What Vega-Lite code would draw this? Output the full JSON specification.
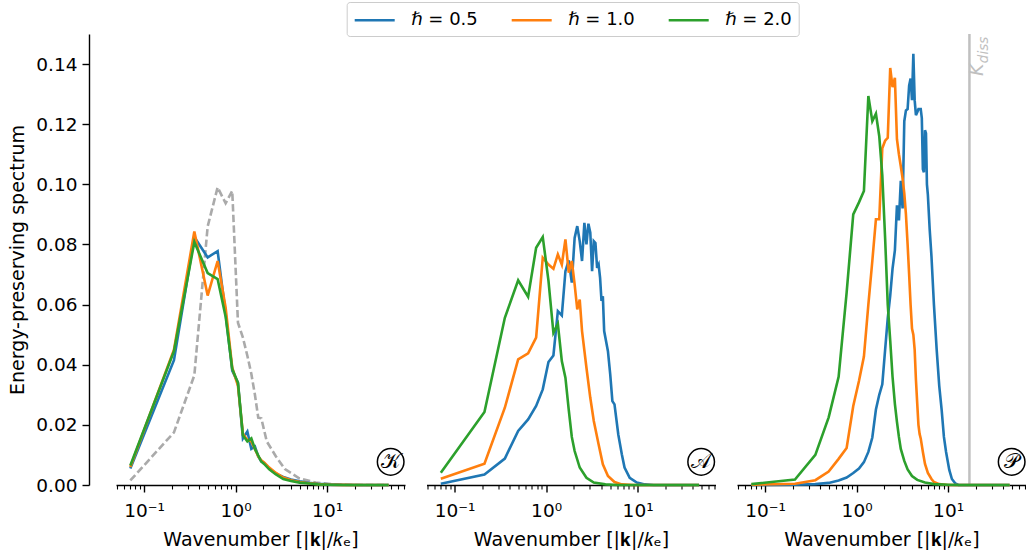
{
  "$schema": "https://vega.github.io/schema/vega-lite/v6.json",
  "padding": {"left": 8, "top": 1, "right": 0, "bottom": 0},
  "spacing": 19.5,
  "config": {
    "font": "DejaVu Sans",
    "view": {"stroke": null},
    "axis": {
      "labelFont": "DejaVu Sans", "labelFontSize": 18.5, "labelColor": "black",
      "titleFont": "DejaVu Sans", "titleFontSize": 19, "titleFontWeight": "normal", "titleColor": "black",
      "domainColor": "black", "domainWidth": 1.4, "tickColor": "black", "tickWidth": 1.4, "grid": false
    }
  },
  "datasets": {
    "K": [
      {"h":"ℏ = 0.5","k":0.0707,"E":0.0055},{"h":"ℏ = 0.5","k":0.212,"E":0.0415},{"h":"ℏ = 0.5","k":0.354,"E":0.0825},{"h":"ℏ = 0.5","k":0.495,"E":0.0757},{"h":"ℏ = 0.5","k":0.636,"E":0.0778},{"h":"ℏ = 0.5","k":0.778,"E":0.057},{"h":"ℏ = 0.5","k":0.919,"E":0.038},{"h":"ℏ = 0.5","k":1.061,"E":0.034},{"h":"ℏ = 0.5","k":1.202,"E":0.0155},{"h":"ℏ = 0.5","k":1.344,"E":0.0178},{"h":"ℏ = 0.5","k":1.485,"E":0.012},{"h":"ℏ = 0.5","k":1.626,"E":0.0128},{"h":"ℏ = 0.5","k":1.768,"E":0.0095},{"h":"ℏ = 0.5","k":1.909,"E":0.0078},{"h":"ℏ = 0.5","k":2.05,"E":0.0073},{"h":"ℏ = 0.5","k":2.33,"E":0.0055},{"h":"ℏ = 0.5","k":2.76,"E":0.0038},{"h":"ℏ = 0.5","k":3.32,"E":0.0027},{"h":"ℏ = 0.5","k":4.03,"E":0.0018},{"h":"ℏ = 0.5","k":5.02,"E":0.0012},{"h":"ℏ = 0.5","k":6.29,"E":0.0007},{"h":"ℏ = 0.5","k":8.0,"E":0.0004},{"h":"ℏ = 0.5","k":10.5,"E":0.0002},{"h":"ℏ = 0.5","k":15,"E":0.0001},{"h":"ℏ = 0.5","k":25,"E":0},{"h":"ℏ = 0.5","k":47,"E":0},
      {"h":"ℏ = 1.0","k":0.0707,"E":0.006},{"h":"ℏ = 1.0","k":0.212,"E":0.045},{"h":"ℏ = 1.0","k":0.354,"E":0.0843},{"h":"ℏ = 1.0","k":0.495,"E":0.063},{"h":"ℏ = 1.0","k":0.636,"E":0.0745},{"h":"ℏ = 1.0","k":0.778,"E":0.059},{"h":"ℏ = 1.0","k":0.919,"E":0.039},{"h":"ℏ = 1.0","k":1.061,"E":0.033},{"h":"ℏ = 1.0","k":1.202,"E":0.017},{"h":"ℏ = 1.0","k":1.344,"E":0.015},{"h":"ℏ = 1.0","k":1.485,"E":0.0145},{"h":"ℏ = 1.0","k":1.626,"E":0.012},{"h":"ℏ = 1.0","k":1.768,"E":0.0095},{"h":"ℏ = 1.0","k":1.909,"E":0.0082},{"h":"ℏ = 1.0","k":2.05,"E":0.0075},{"h":"ℏ = 1.0","k":2.33,"E":0.0058},{"h":"ℏ = 1.0","k":2.76,"E":0.004},{"h":"ℏ = 1.0","k":3.32,"E":0.0025},{"h":"ℏ = 1.0","k":4.03,"E":0.0016},{"h":"ℏ = 1.0","k":5.02,"E":0.001},{"h":"ℏ = 1.0","k":6.29,"E":0.0006},{"h":"ℏ = 1.0","k":8.0,"E":0.0003},{"h":"ℏ = 1.0","k":10.5,"E":0.0001},{"h":"ℏ = 1.0","k":15,"E":0.00005},{"h":"ℏ = 1.0","k":25,"E":0},{"h":"ℏ = 1.0","k":47,"E":0},
      {"h":"ℏ = 2.0","k":0.0707,"E":0.0065},{"h":"ℏ = 2.0","k":0.212,"E":0.0445},{"h":"ℏ = 2.0","k":0.354,"E":0.0808},{"h":"ℏ = 2.0","k":0.495,"E":0.0705},{"h":"ℏ = 2.0","k":0.636,"E":0.0685},{"h":"ℏ = 2.0","k":0.778,"E":0.056},{"h":"ℏ = 2.0","k":0.919,"E":0.0386},{"h":"ℏ = 2.0","k":1.061,"E":0.034},{"h":"ℏ = 2.0","k":1.202,"E":0.0165},{"h":"ℏ = 2.0","k":1.344,"E":0.0145},{"h":"ℏ = 2.0","k":1.485,"E":0.0155},{"h":"ℏ = 2.0","k":1.626,"E":0.012},{"h":"ℏ = 2.0","k":1.768,"E":0.0098},{"h":"ℏ = 2.0","k":1.909,"E":0.0078},{"h":"ℏ = 2.0","k":2.05,"E":0.007},{"h":"ℏ = 2.0","k":2.33,"E":0.0052},{"h":"ℏ = 2.0","k":2.76,"E":0.0035},{"h":"ℏ = 2.0","k":3.32,"E":0.002},{"h":"ℏ = 2.0","k":4.03,"E":0.0013},{"h":"ℏ = 2.0","k":5.02,"E":0.0008},{"h":"ℏ = 2.0","k":6.29,"E":0.0005},{"h":"ℏ = 2.0","k":8.0,"E":0.0002},{"h":"ℏ = 2.0","k":10.5,"E":0.0001},{"h":"ℏ = 2.0","k":15,"E":0},{"h":"ℏ = 2.0","k":47,"E":0}
    ],
    "K0": [
      {"k":0.0707,"E":0.0015},{"k":0.212,"E":0.0175},{"k":0.354,"E":0.0365},{"k":0.495,"E":0.086},{"k":0.636,"E":0.099},{"k":0.778,"E":0.0937},{"k":0.919,"E":0.0978},{"k":1.061,"E":0.054},{"k":1.202,"E":0.049},{"k":1.344,"E":0.043},{"k":1.485,"E":0.037},{"k":1.626,"E":0.03},{"k":1.768,"E":0.0224},{"k":1.909,"E":0.0222},{"k":2.19,"E":0.0145},{"k":2.76,"E":0.0095},{"k":3.46,"E":0.0053},{"k":4.9,"E":0.0023},{"k":7.5,"E":0.0008},{"k":12,"E":0.0002},{"k":20,"E":0},{"k":47,"E":0}
    ],
    "A": [
      {"h":"ℏ = 0.5","k":0.0707,"E":0.0004},{"h":"ℏ = 0.5","k":0.212,"E":0.0035},{"h":"ℏ = 0.5","k":0.354,"E":0.0088},{"h":"ℏ = 0.5","k":0.495,"E":0.018},{"h":"ℏ = 0.5","k":0.636,"E":0.0218},{"h":"ℏ = 0.5","k":0.778,"E":0.0263},{"h":"ℏ = 0.5","k":0.919,"E":0.0318},{"h":"ℏ = 0.5","k":1.061,"E":0.0409},{"h":"ℏ = 0.5","k":1.202,"E":0.0431},{"h":"ℏ = 0.5","k":1.344,"E":0.0578},{"h":"ℏ = 0.5","k":1.485,"E":0.0564},{"h":"ℏ = 0.5","k":1.626,"E":0.0711},{"h":"ℏ = 0.5","k":1.768,"E":0.0747},{"h":"ℏ = 0.5","k":1.909,"E":0.0673},{"h":"ℏ = 0.5","k":2.05,"E":0.0822},{"h":"ℏ = 0.5","k":2.19,"E":0.0861},{"h":"ℏ = 0.5","k":2.33,"E":0.0811},{"h":"ℏ = 0.5","k":2.47,"E":0.0745},{"h":"ℏ = 0.5","k":2.62,"E":0.0872},{"h":"ℏ = 0.5","k":2.76,"E":0.08},{"h":"ℏ = 0.5","k":2.9,"E":0.0869},{"h":"ℏ = 0.5","k":3.04,"E":0.0839},{"h":"ℏ = 0.5","k":3.18,"E":0.0711},{"h":"ℏ = 0.5","k":3.32,"E":0.0811},{"h":"ℏ = 0.5","k":3.46,"E":0.0805},{"h":"ℏ = 0.5","k":3.61,"E":0.0722},{"h":"ℏ = 0.5","k":3.75,"E":0.0733},{"h":"ℏ = 0.5","k":3.89,"E":0.0689},{"h":"ℏ = 0.5","k":4.03,"E":0.0612},{"h":"ℏ = 0.5","k":4.17,"E":0.0628},{"h":"ℏ = 0.5","k":4.31,"E":0.0512},{"h":"ℏ = 0.5","k":4.74,"E":0.0445},{"h":"ℏ = 0.5","k":5.02,"E":0.0368},{"h":"ℏ = 0.5","k":5.3,"E":0.0279},{"h":"ℏ = 0.5","k":5.59,"E":0.0268},{"h":"ℏ = 0.5","k":6.15,"E":0.0168},{"h":"ℏ = 0.5","k":6.72,"E":0.0102},{"h":"ℏ = 0.5","k":7.2,"E":0.0058},{"h":"ℏ = 0.5","k":8.2,"E":0.0024},{"h":"ℏ = 0.5","k":9.8,"E":0.0008},{"h":"ℏ = 0.5","k":12,"E":0.0002},{"h":"ℏ = 0.5","k":15,"E":0},{"h":"ℏ = 0.5","k":47,"E":0},
      {"h":"ℏ = 1.0","k":0.0707,"E":0.0021},{"h":"ℏ = 1.0","k":0.212,"E":0.0071},{"h":"ℏ = 1.0","k":0.354,"E":0.0257},{"h":"ℏ = 1.0","k":0.495,"E":0.0418},{"h":"ℏ = 1.0","k":0.636,"E":0.0438},{"h":"ℏ = 1.0","k":0.778,"E":0.049},{"h":"ℏ = 1.0","k":0.919,"E":0.0756},{"h":"ℏ = 1.0","k":1.061,"E":0.0733},{"h":"ℏ = 1.0","k":1.202,"E":0.0719},{"h":"ℏ = 1.0","k":1.344,"E":0.0767},{"h":"ℏ = 1.0","k":1.485,"E":0.0733},{"h":"ℏ = 1.0","k":1.626,"E":0.0817},{"h":"ℏ = 1.0","k":1.768,"E":0.0706},{"h":"ℏ = 1.0","k":1.909,"E":0.0745},{"h":"ℏ = 1.0","k":2.05,"E":0.0667},{"h":"ℏ = 1.0","k":2.19,"E":0.0584},{"h":"ℏ = 1.0","k":2.33,"E":0.0617},{"h":"ℏ = 1.0","k":2.47,"E":0.0512},{"h":"ℏ = 1.0","k":2.76,"E":0.039},{"h":"ℏ = 1.0","k":3.04,"E":0.029},{"h":"ℏ = 1.0","k":3.32,"E":0.0213},{"h":"ℏ = 1.0","k":3.75,"E":0.0135},{"h":"ℏ = 1.0","k":4.17,"E":0.0069},{"h":"ℏ = 1.0","k":4.74,"E":0.003},{"h":"ℏ = 1.0","k":5.59,"E":0.001},{"h":"ℏ = 1.0","k":6.72,"E":0.0002},{"h":"ℏ = 1.0","k":9,"E":0},{"h":"ℏ = 1.0","k":47,"E":0},
      {"h":"ℏ = 2.0","k":0.0707,"E":0.0041},{"h":"ℏ = 2.0","k":0.212,"E":0.0243},{"h":"ℏ = 2.0","k":0.354,"E":0.0556},{"h":"ℏ = 2.0","k":0.495,"E":0.0681},{"h":"ℏ = 2.0","k":0.636,"E":0.0626},{"h":"ℏ = 2.0","k":0.778,"E":0.0789},{"h":"ℏ = 2.0","k":0.919,"E":0.0825},{"h":"ℏ = 2.0","k":1.061,"E":0.068},{"h":"ℏ = 2.0","k":1.202,"E":0.0506},{"h":"ℏ = 2.0","k":1.344,"E":0.0536},{"h":"ℏ = 2.0","k":1.485,"E":0.0412},{"h":"ℏ = 2.0","k":1.626,"E":0.0357},{"h":"ℏ = 2.0","k":1.768,"E":0.025},{"h":"ℏ = 2.0","k":1.909,"E":0.016},{"h":"ℏ = 2.0","k":2.05,"E":0.0113},{"h":"ℏ = 2.0","k":2.33,"E":0.0058},{"h":"ℏ = 2.0","k":2.76,"E":0.0024},{"h":"ℏ = 2.0","k":3.32,"E":0.0008},{"h":"ℏ = 2.0","k":4.45,"E":0.0002},{"h":"ℏ = 2.0","k":6,"E":0},{"h":"ℏ = 2.0","k":47,"E":0}
    ],
    "P": [
      {"h":"ℏ = 0.5","k":0.0707,"E":0},{"h":"ℏ = 0.5","k":0.212,"E":0.0001},{"h":"ℏ = 0.5","k":0.354,"E":0.0003},{"h":"ℏ = 0.5","k":0.495,"E":0.0007},{"h":"ℏ = 0.5","k":0.636,"E":0.0015},{"h":"ℏ = 0.5","k":0.778,"E":0.0025},{"h":"ℏ = 0.5","k":0.919,"E":0.004},{"h":"ℏ = 0.5","k":1.061,"E":0.0055},{"h":"ℏ = 0.5","k":1.202,"E":0.0076},{"h":"ℏ = 0.5","k":1.344,"E":0.011},{"h":"ℏ = 0.5","k":1.485,"E":0.0158},{"h":"ℏ = 0.5","k":1.626,"E":0.0251},{"h":"ℏ = 0.5","k":1.768,"E":0.03},{"h":"ℏ = 0.5","k":1.909,"E":0.0335},{"h":"ℏ = 0.5","k":2.05,"E":0.045},{"h":"ℏ = 0.5","k":2.19,"E":0.0555},{"h":"ℏ = 0.5","k":2.33,"E":0.063},{"h":"ℏ = 0.5","k":2.47,"E":0.072},{"h":"ℏ = 0.5","k":2.62,"E":0.078},{"h":"ℏ = 0.5","k":2.76,"E":0.093},{"h":"ℏ = 0.5","k":2.9,"E":0.088},{"h":"ℏ = 0.5","k":3.04,"E":0.1012},{"h":"ℏ = 0.5","k":3.18,"E":0.092},{"h":"ℏ = 0.5","k":3.32,"E":0.121},{"h":"ℏ = 0.5","k":3.46,"E":0.1246},{"h":"ℏ = 0.5","k":3.61,"E":0.125},{"h":"ℏ = 0.5","k":3.75,"E":0.1328},{"h":"ℏ = 0.5","k":3.89,"E":0.1352},{"h":"ℏ = 0.5","k":4.03,"E":0.128},{"h":"ℏ = 0.5","k":4.17,"E":0.1434},{"h":"ℏ = 0.5","k":4.31,"E":0.128},{"h":"ℏ = 0.5","k":4.45,"E":0.123},{"h":"ℏ = 0.5","k":4.6,"E":0.124},{"h":"ℏ = 0.5","k":4.74,"E":0.125},{"h":"ℏ = 0.5","k":4.88,"E":0.125},{"h":"ℏ = 0.5","k":5.02,"E":0.125},{"h":"ℏ = 0.5","k":5.16,"E":0.122},{"h":"ℏ = 0.5","k":5.3,"E":0.105},{"h":"ℏ = 0.5","k":5.44,"E":0.104},{"h":"ℏ = 0.5","k":5.59,"E":0.118},{"h":"ℏ = 0.5","k":5.73,"E":0.117},{"h":"ℏ = 0.5","k":5.87,"E":0.1},{"h":"ℏ = 0.5","k":6.01,"E":0.0965},{"h":"ℏ = 0.5","k":6.29,"E":0.085},{"h":"ℏ = 0.5","k":6.58,"E":0.076},{"h":"ℏ = 0.5","k":7.0,"E":0.06},{"h":"ℏ = 0.5","k":7.5,"E":0.045},{"h":"ℏ = 0.5","k":8.0,"E":0.033},{"h":"ℏ = 0.5","k":8.5,"E":0.025},{"h":"ℏ = 0.5","k":9.0,"E":0.016},{"h":"ℏ = 0.5","k":9.5,"E":0.011},{"h":"ℏ = 0.5","k":10.3,"E":0.005},{"h":"ℏ = 0.5","k":11,"E":0.002},{"h":"ℏ = 0.5","k":12,"E":0.0005},{"h":"ℏ = 0.5","k":13,"E":0},{"h":"ℏ = 0.5","k":47,"E":0},
      {"h":"ℏ = 1.0","k":0.0707,"E":0.0001},{"h":"ℏ = 1.0","k":0.212,"E":0.0004},{"h":"ℏ = 1.0","k":0.354,"E":0.0016},{"h":"ℏ = 1.0","k":0.495,"E":0.0045},{"h":"ℏ = 1.0","k":0.636,"E":0.0087},{"h":"ℏ = 1.0","k":0.778,"E":0.0123},{"h":"ℏ = 1.0","k":0.919,"E":0.0263},{"h":"ℏ = 1.0","k":1.061,"E":0.0346},{"h":"ℏ = 1.0","k":1.202,"E":0.0427},{"h":"ℏ = 1.0","k":1.344,"E":0.06},{"h":"ℏ = 1.0","k":1.485,"E":0.0745},{"h":"ℏ = 1.0","k":1.626,"E":0.0884},{"h":"ℏ = 1.0","k":1.768,"E":0.0884},{"h":"ℏ = 1.0","k":1.909,"E":0.112},{"h":"ℏ = 1.0","k":2.05,"E":0.1145},{"h":"ℏ = 1.0","k":2.19,"E":0.1155},{"h":"ℏ = 1.0","k":2.33,"E":0.1387},{"h":"ℏ = 1.0","k":2.47,"E":0.1323},{"h":"ℏ = 1.0","k":2.62,"E":0.1354},{"h":"ℏ = 1.0","k":2.76,"E":0.115},{"h":"ℏ = 1.0","k":2.9,"E":0.11},{"h":"ℏ = 1.0","k":3.04,"E":0.106},{"h":"ℏ = 1.0","k":3.18,"E":0.102},{"h":"ℏ = 1.0","k":3.32,"E":0.097},{"h":"ℏ = 1.0","k":3.46,"E":0.09},{"h":"ℏ = 1.0","k":3.61,"E":0.08},{"h":"ℏ = 1.0","k":3.75,"E":0.07},{"h":"ℏ = 1.0","k":3.89,"E":0.06},{"h":"ℏ = 1.0","k":4.03,"E":0.052},{"h":"ℏ = 1.0","k":4.17,"E":0.05},{"h":"ℏ = 1.0","k":4.31,"E":0.045},{"h":"ℏ = 1.0","k":4.45,"E":0.035},{"h":"ℏ = 1.0","k":4.6,"E":0.027},{"h":"ℏ = 1.0","k":4.74,"E":0.02},{"h":"ℏ = 1.0","k":4.88,"E":0.017},{"h":"ℏ = 1.0","k":5.02,"E":0.0155},{"h":"ℏ = 1.0","k":5.3,"E":0.011},{"h":"ℏ = 1.0","k":5.59,"E":0.007},{"h":"ℏ = 1.0","k":6.01,"E":0.004},{"h":"ℏ = 1.0","k":6.58,"E":0.002},{"h":"ℏ = 1.0","k":7.0,"E":0.001},{"h":"ℏ = 1.0","k":8,"E":0.0003},{"h":"ℏ = 1.0","k":10,"E":0},{"h":"ℏ = 1.0","k":47,"E":0},
      {"h":"ℏ = 2.0","k":0.0707,"E":0.0003},{"h":"ℏ = 2.0","k":0.212,"E":0.0018},{"h":"ℏ = 2.0","k":0.354,"E":0.01},{"h":"ℏ = 2.0","k":0.495,"E":0.0225},{"h":"ℏ = 2.0","k":0.636,"E":0.036},{"h":"ℏ = 2.0","k":0.778,"E":0.064},{"h":"ℏ = 2.0","k":0.919,"E":0.09},{"h":"ℏ = 2.0","k":1.061,"E":0.094},{"h":"ℏ = 2.0","k":1.202,"E":0.0978},{"h":"ℏ = 2.0","k":1.344,"E":0.1294},{"h":"ℏ = 2.0","k":1.485,"E":0.121},{"h":"ℏ = 2.0","k":1.626,"E":0.1235},{"h":"ℏ = 2.0","k":1.768,"E":0.116},{"h":"ℏ = 2.0","k":1.909,"E":0.103},{"h":"ℏ = 2.0","k":2.05,"E":0.082},{"h":"ℏ = 2.0","k":2.19,"E":0.06},{"h":"ℏ = 2.0","k":2.33,"E":0.048},{"h":"ℏ = 2.0","k":2.47,"E":0.036},{"h":"ℏ = 2.0","k":2.62,"E":0.027},{"h":"ℏ = 2.0","k":2.76,"E":0.021},{"h":"ℏ = 2.0","k":2.9,"E":0.016},{"h":"ℏ = 2.0","k":3.04,"E":0.012},{"h":"ℏ = 2.0","k":3.32,"E":0.008},{"h":"ℏ = 2.0","k":3.61,"E":0.0052},{"h":"ℏ = 2.0","k":4.03,"E":0.003},{"h":"ℏ = 2.0","k":4.6,"E":0.0017},{"h":"ℏ = 2.0","k":5.59,"E":0.0008},{"h":"ℏ = 2.0","k":7.0,"E":0.0003},{"h":"ℏ = 2.0","k":10,"E":0.0001},{"h":"ℏ = 2.0","k":13,"E":0},{"h":"ℏ = 2.0","k":47,"E":0}
    ],
    "labK": [{"k":49.5,"E":0.0077,"t":"𝒦"}],
    "labA": [{"k":49.5,"E":0.0077,"t":"𝒜"}],
    "labP": [{"k":49.5,"E":0.0077,"t":"𝒫"}],
    "kdiss": [{"k":17.1}],
    "kdissK": [{"k":17.1,"E":0.136,"t":"K"}],
    "kdissS": [{"k":17.1,"E":0.1403,"t":"diss"}]
  },
  "hconcat": [
    {
      "width": 289, "height": 451,
      "layer": [
        {"data": {"name": "K0"}, "mark": {"type": "line", "color": "#aaaaaa", "strokeWidth": 2.6, "strokeDash": [7.4, 3.2]},
         "encoding": {
           "x": {"field": "k", "type": "quantitative", "scale": {"type": "log", "domain": [0.0493, 71], "nice": false},
                 "axis": {"title": "Wavenumber [|𝐤|/𝑘ₑ]", "values": [0.05,0.06,0.07,0.08,0.09,0.1,0.2,0.3,0.4,0.5,0.6,0.7,0.8,0.9,1,2,3,4,5,6,7,8,9,10,20,30,40,50,60,70],
                          "labelExpr": "datum.value == 0.1 ? '10⁻¹' : datum.value == 1 ? '10⁰' : datum.value == 10 ? '10¹' : ''",
                          "labelOverlap": false, "labelPadding": 9, "titlePadding": 11,
                          "tickSize": {"condition": {"test": "datum.value == 0.1 || datum.value == 1 || datum.value == 10", "value": 7}, "value": 4},
                          "tickWidth": {"condition": {"test": "datum.value == 0.1 || datum.value == 1 || datum.value == 10", "value": 1.4}, "value": 1.1}}},
           "y": {"field": "E", "type": "quantitative", "scale": {"domain": [0, 0.15], "nice": false},
                 "axis": {"title": "Energy-preserving spectrum", "values": [0,0.02,0.04,0.06,0.08,0.1,0.12,0.14], "format": ".2f", "offset": 27, "tickSize": 7, "labelPadding": 5, "titlePadding": 8}}
         }},
        {"data": {"name": "K"}, "mark": {"type": "line", "strokeWidth": 2.6},
         "encoding": {
           "x": {"field": "k", "type": "quantitative"},
           "y": {"field": "E", "type": "quantitative"},
           "color": {"field": "h", "type": "nominal", "scale": {"domain": ["ℏ = 0.5", "ℏ = 1.0", "ℏ = 2.0"], "range": ["#1f77b4", "#ff7f0e", "#2ca02c"]},
                     "legend": {"title": null, "orient": "none", "legendX": 230.7, "legendY": -32, "direction": "horizontal", "symbolType": "M-1,0H3", "symbolSize": 400, "symbolStrokeWidth": 2.6, "labelFontSize": 18, "labelFont": "DejaVu Sans", "labelColor": "black", "labelOffset": 35, "columnPadding": 28, "padding": 6.5, "strokeColor": "#cccccc", "fillColor": "white", "cornerRadius": 3}}
         }},
        {"data": {"name": "labK"}, "mark": {"type": "point", "shape": "circle", "filled": false, "size": 707, "stroke": "black", "strokeWidth": 1.5, "opacity": 1},
         "encoding": {"x": {"field": "k", "type": "quantitative"}, "y": {"field": "E", "type": "quantitative"}}},
        {"data": {"name": "labK"}, "mark": {"type": "text", "fontSize": 21, "font": "DejaVu Serif", "color": "black", "baseline": "middle", "align": "center"},
         "encoding": {"x": {"field": "k", "type": "quantitative"}, "y": {"field": "E", "type": "quantitative"}, "text": {"field": "t"}}}
      ]
    },
    {
      "width": 289, "height": 451,
      "layer": [
        {"data": {"name": "A"}, "mark": {"type": "line", "strokeWidth": 2.6},
         "encoding": {
           "x": {"field": "k", "type": "quantitative", "scale": {"type": "log", "domain": [0.0493, 71], "nice": false},
                 "axis": {"title": "Wavenumber [|𝐤|/𝑘ₑ]", "values": [0.05,0.06,0.07,0.08,0.09,0.1,0.2,0.3,0.4,0.5,0.6,0.7,0.8,0.9,1,2,3,4,5,6,7,8,9,10,20,30,40,50,60,70],
                          "labelExpr": "datum.value == 0.1 ? '10⁻¹' : datum.value == 1 ? '10⁰' : datum.value == 10 ? '10¹' : ''",
                          "labelOverlap": false, "labelPadding": 9, "titlePadding": 11,
                          "tickSize": {"condition": {"test": "datum.value == 0.1 || datum.value == 1 || datum.value == 10", "value": 7}, "value": 4},
                          "tickWidth": {"condition": {"test": "datum.value == 0.1 || datum.value == 1 || datum.value == 10", "value": 1.4}, "value": 1.1}}},
           "y": {"field": "E", "type": "quantitative", "scale": {"domain": [0, 0.15], "nice": false}, "axis": null},
           "color": {"field": "h", "type": "nominal", "scale": {"domain": ["ℏ = 0.5", "ℏ = 1.0", "ℏ = 2.0"], "range": ["#1f77b4", "#ff7f0e", "#2ca02c"]}, "legend": {"title": null}}
         }},
        {"data": {"name": "labA"}, "mark": {"type": "point", "shape": "circle", "filled": false, "size": 707, "stroke": "black", "strokeWidth": 1.5, "opacity": 1},
         "encoding": {"x": {"field": "k", "type": "quantitative"}, "y": {"field": "E", "type": "quantitative"}}},
        {"data": {"name": "labA"}, "mark": {"type": "text", "fontSize": 21, "font": "DejaVu Serif", "color": "black", "baseline": "middle", "align": "center"},
         "encoding": {"x": {"field": "k", "type": "quantitative"}, "y": {"field": "E", "type": "quantitative"}, "text": {"field": "t"}}}
      ]
    },
    {
      "width": 289, "height": 451,
      "layer": [
        {"data": {"name": "kdiss"}, "mark": {"type": "rule", "color": "#c0c0c0", "strokeWidth": 2.5},
         "encoding": {
           "x": {"field": "k", "type": "quantitative", "scale": {"type": "log", "domain": [0.0493, 71], "nice": false},
                 "axis": {"title": "Wavenumber [|𝐤|/𝑘ₑ]", "values": [0.05,0.06,0.07,0.08,0.09,0.1,0.2,0.3,0.4,0.5,0.6,0.7,0.8,0.9,1,2,3,4,5,6,7,8,9,10,20,30,40,50,60,70],
                          "labelExpr": "datum.value == 0.1 ? '10⁻¹' : datum.value == 1 ? '10⁰' : datum.value == 10 ? '10¹' : ''",
                          "labelOverlap": false, "labelPadding": 9, "titlePadding": 11,
                          "tickSize": {"condition": {"test": "datum.value == 0.1 || datum.value == 1 || datum.value == 10", "value": 7}, "value": 4},
                          "tickWidth": {"condition": {"test": "datum.value == 0.1 || datum.value == 1 || datum.value == 10", "value": 1.4}, "value": 1.1}}}
         }},
        {"data": {"name": "P"}, "mark": {"type": "line", "strokeWidth": 2.6},
         "encoding": {
           "x": {"field": "k", "type": "quantitative"},
           "y": {"field": "E", "type": "quantitative", "scale": {"domain": [0, 0.15], "nice": false}, "axis": null},
           "color": {"field": "h", "type": "nominal", "scale": {"domain": ["ℏ = 0.5", "ℏ = 1.0", "ℏ = 2.0"], "range": ["#1f77b4", "#ff7f0e", "#2ca02c"]}, "legend": {"title": null}}
         }},
        {"data": {"name": "kdissK"}, "mark": {"type": "text", "fontSize": 19, "fontStyle": "italic", "color": "#c0c0c0", "angle": 270, "align": "left", "baseline": "alphabetic", "dy": 14},
         "encoding": {"x": {"field": "k", "type": "quantitative"}, "y": {"field": "E", "type": "quantitative"}, "text": {"field": "t"}}},
        {"data": {"name": "kdissS"}, "mark": {"type": "text", "fontSize": 13.5, "fontStyle": "italic", "color": "#c0c0c0", "angle": 270, "align": "left", "baseline": "alphabetic", "dy": 19},
         "encoding": {"x": {"field": "k", "type": "quantitative"}, "y": {"field": "E", "type": "quantitative"}, "text": {"field": "t"}}},
        {"data": {"name": "labP"}, "mark": {"type": "point", "shape": "circle", "filled": false, "size": 707, "stroke": "black", "strokeWidth": 1.5, "opacity": 1},
         "encoding": {"x": {"field": "k", "type": "quantitative"}, "y": {"field": "E", "type": "quantitative"}}},
        {"data": {"name": "labP"}, "mark": {"type": "text", "fontSize": 21, "font": "DejaVu Serif", "color": "black", "baseline": "middle", "align": "center"},
         "encoding": {"x": {"field": "k", "type": "quantitative"}, "y": {"field": "E", "type": "quantitative"}, "text": {"field": "t"}}}
      ]
    }
  ],
  "resolve": {"scale": {"color": "shared"}, "legend": {"color": "shared"}}
}
